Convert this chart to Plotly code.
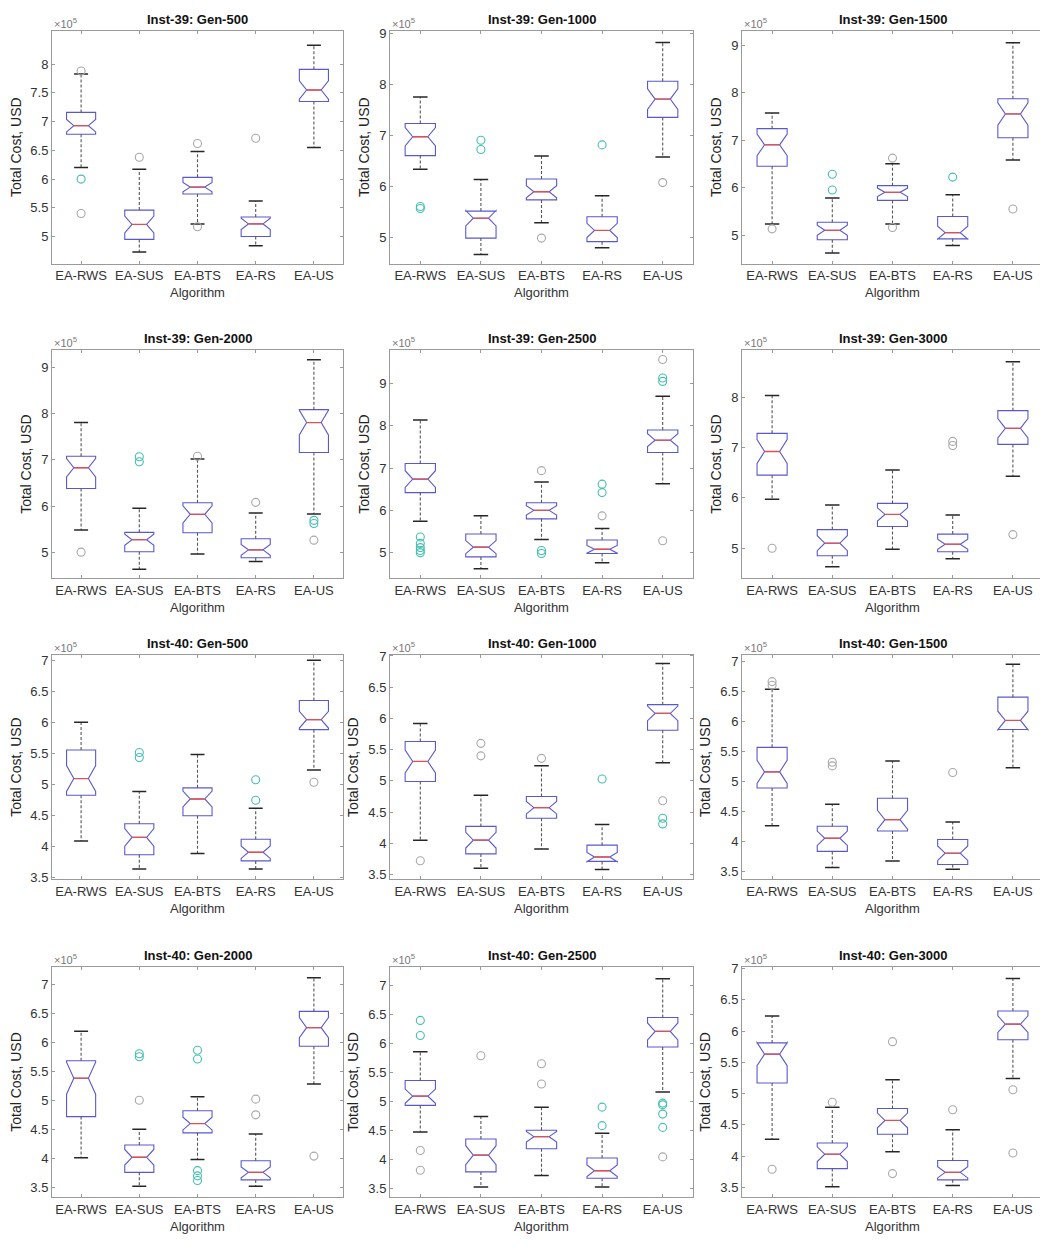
import math
import plotly.graph_objects as go

# ---------------- data (values in units of 10^5 USD) ----------------
ALGORITHMS = ["EA-RWS", "EA-SUS", "EA-BTS", "EA-RS", "EA-US"]

PANEL_TITLES = [
    "Inst-39: Gen-500", "Inst-39: Gen-1000", "Inst-39: Gen-1500",
    "Inst-39: Gen-2000", "Inst-39: Gen-2500", "Inst-39: Gen-3000",
    "Inst-40: Gen-500", "Inst-40: Gen-1000", "Inst-40: Gen-1500",
    "Inst-40: Gen-2000", "Inst-40: Gen-2500", "Inst-40: Gen-3000",
]

LOWER_WHISKER = [
    [6.20, 4.73, 5.22, 4.84, 6.55],
    [6.33, 4.66, 5.28, 4.79, 6.57],
    [5.23, 4.62, 5.23, 4.78, 6.58],
    [5.48, 4.63, 4.96, 4.80, 5.83],
    [5.74, 4.62, 5.31, 4.76, 6.63],
    [5.97, 4.63, 4.98, 4.79, 6.43],
    [4.09, 3.64, 3.89, 3.64, 5.24],
    [4.05, 3.60, 3.91, 3.58, 5.29],
    [4.26, 3.56, 3.67, 3.53, 5.23],
    [4.01, 3.52, 3.98, 3.52, 5.28],
    [4.47, 3.52, 3.72, 3.52, 5.16],
    [4.27, 3.51, 4.07, 3.53, 5.24],
]

Q1 = [
    [6.78, 4.95, 5.74, 5.00, 7.35],
    [6.60, 4.98, 5.73, 4.91, 7.35],
    [6.45, 4.90, 5.73, 4.92, 7.05],
    [6.38, 5.01, 5.42, 4.88, 7.16],
    [6.42, 4.90, 5.80, 4.98, 7.37],
    [6.45, 4.85, 5.43, 4.93, 7.06],
    [4.83, 3.87, 4.50, 3.77, 5.89],
    [4.99, 3.83, 4.40, 3.71, 5.81],
    [4.89, 3.83, 4.17, 3.61, 5.87],
    [4.72, 3.76, 4.44, 3.63, 5.93],
    [4.93, 3.78, 4.18, 3.67, 5.94],
    [5.17, 3.80, 4.35, 3.62, 5.86],
]

MEDIAN = [
    [6.93, 5.21, 5.86, 5.22, 7.55],
    [6.97, 5.37, 5.89, 5.13, 7.71],
    [6.90, 5.10, 5.90, 5.05, 7.55],
    [6.83, 5.27, 5.82, 5.05, 7.81],
    [6.74, 5.13, 6.00, 5.08, 7.66],
    [6.92, 5.10, 5.67, 5.08, 7.38],
    [5.10, 4.15, 4.77, 3.91, 6.05],
    [5.31, 4.05, 4.57, 3.78, 6.08],
    [5.16, 4.05, 4.36, 3.80, 6.02],
    [5.38, 4.02, 4.60, 3.76, 6.25],
    [5.09, 4.07, 4.39, 3.80, 6.21],
    [5.63, 4.03, 4.57, 3.74, 6.11],
]

Q3 = [
    [7.16, 5.46, 6.03, 5.34, 7.91],
    [7.23, 5.51, 6.14, 5.40, 8.06],
    [7.24, 5.27, 6.04, 5.39, 7.87],
    [7.08, 5.43, 6.07, 5.29, 8.09],
    [7.11, 5.44, 6.18, 5.30, 7.90],
    [7.28, 5.37, 5.89, 5.28, 7.73],
    [5.56, 4.37, 4.95, 4.12, 6.36],
    [5.63, 4.27, 4.75, 3.97, 6.22],
    [5.57, 4.25, 4.72, 4.03, 6.41],
    [5.68, 4.23, 4.82, 3.96, 6.53],
    [5.36, 4.35, 4.50, 4.02, 6.45],
    [5.81, 4.21, 4.76, 3.93, 6.32],
]

UPPER_WHISKER = [
    [7.83, 6.17, 6.48, 5.62, 8.33],
    [7.75, 6.13, 6.59, 5.81, 8.82],
    [7.57, 5.78, 6.50, 5.85, 9.05],
    [7.81, 5.95, 7.02, 5.85, 9.17],
    [8.14, 5.87, 6.67, 5.57, 8.70],
    [8.03, 5.86, 6.55, 5.66, 8.70],
    [6.01, 4.89, 5.49, 4.62, 7.01],
    [5.92, 4.77, 5.24, 4.30, 6.88],
    [6.54, 4.62, 5.34, 4.32, 6.96],
    [6.19, 4.50, 5.06, 4.42, 7.11],
    [5.86, 4.74, 4.90, 4.45, 7.12],
    [6.24, 4.78, 5.22, 4.42, 6.84],
]

# outliers per panel: (algorithm index, value, colour key)
OUTLIERS = [
    [(0, 7.88, "g"), (0, 6.00, "c"), (0, 5.40, "g"), (1, 6.38, "g"), (2, 6.62, "g"), (2, 5.17, "g"), (3, 6.71, "g")],
    [(0, 5.60, "c"), (0, 5.56, "c"), (1, 6.90, "c"), (1, 6.72, "c"), (2, 4.98, "g"), (3, 6.81, "c"), (4, 6.07, "g")],
    [(0, 5.13, "g"), (1, 6.28, "c"), (1, 5.95, "c"), (2, 6.62, "g"), (2, 5.16, "g"), (3, 6.22, "c"), (4, 5.55, "g")],
    [(0, 5.00, "g"), (1, 7.07, "c"), (1, 6.96, "c"), (2, 7.08, "g"), (3, 6.08, "g"), (4, 5.69, "c"), (4, 5.62, "c"), (4, 5.26, "g")],
    [(0, 5.37, "c"), (0, 5.22, "c"), (0, 5.12, "c"), (0, 5.05, "c"), (0, 5.00, "c"), (2, 6.94, "g"), (2, 5.05, "c"),
     (2, 4.98, "c"), (3, 6.62, "c"), (3, 6.42, "c"), (3, 5.87, "g"), (4, 9.57, "g"), (4, 9.13, "c"), (4, 9.05, "c"), (4, 5.28, "g")],
    [(0, 5.00, "g"), (3, 7.12, "g"), (3, 7.04, "g"), (4, 5.27, "g")],
    [(1, 5.52, "c"), (1, 5.44, "c"), (3, 5.08, "c"), (3, 4.75, "c"), (4, 5.04, "g")],
    [(0, 3.72, "g"), (1, 5.60, "g"), (1, 5.40, "g"), (2, 5.36, "g"), (3, 5.03, "c"), (4, 4.68, "g"), (4, 4.40, "c"), (4, 4.31, "c")],
    [(0, 6.67, "g"), (0, 6.61, "g"), (1, 5.32, "g"), (1, 5.26, "g"), (3, 5.15, "g")],
    [(1, 5.80, "c"), (1, 5.75, "c"), (1, 5.00, "g"), (2, 5.86, "c"), (2, 5.71, "c"), (2, 3.79, "c"), (2, 3.70, "c"),
     (2, 3.62, "c"), (3, 5.02, "g"), (3, 4.75, "g"), (4, 4.04, "g")],
    [(0, 6.40, "c"), (0, 6.14, "c"), (0, 4.15, "g"), (0, 3.81, "g"), (1, 5.79, "g"), (2, 5.65, "g"), (2, 5.30, "g"),
     (3, 4.90, "c"), (3, 4.58, "c"), (4, 4.97, "c"), (4, 4.94, "c"), (4, 4.78, "c"), (4, 4.55, "c"), (4, 4.04, "g")],
    [(0, 3.79, "g"), (1, 4.86, "g"), (2, 5.83, "g"), (2, 3.72, "g"), (3, 4.74, "g"), (4, 5.06, "g"), (4, 4.05, "g")],
]

Y_RANGES = [
    [4.53, 8.58], [4.48, 9.05], [4.40, 9.30],
    [4.43, 9.39], [4.39, 9.80], [4.40, 8.94],
    [3.47, 7.10], [3.42, 7.02], [3.36, 7.12],
    [3.33, 7.30], [3.34, 7.33], [3.34, 7.03],
]

Y_TICKS = [
    [5, 5.5, 6, 6.5, 7, 7.5, 8], [5, 6, 7, 8, 9], [5, 6, 7, 8, 9],
    [5, 6, 7, 8, 9], [5, 6, 7, 8, 9], [5, 6, 7, 8],
    [3.5, 4, 4.5, 5, 5.5, 6, 6.5, 7], [3.5, 4, 4.5, 5, 5.5, 6, 6.5, 7], [3.5, 4, 4.5, 5, 5.5, 6, 6.5, 7],
    [3.5, 4, 4.5, 5, 5.5, 6, 6.5, 7], [3.5, 4, 4.5, 5, 5.5, 6, 6.5, 7], [3.5, 4, 4.5, 5, 5.5, 6, 6.5, 7],
]

N_RUNS = 30  # runs per algorithm, used for the standard notch width 1.57*IQR/sqrt(n)

# ---------------- styling ----------------
# the page body has an 8px margin, so the figure is placed 8px in from the window edge
PAGE_OFF = 8
W, H = 1040, 1232
COL_PX = [(52, 343), (390, 693), (742, 1043)]          # window pixel positions
ROW_PX = [(25, 260), (347, 578), (655, 882), (970, 1203)]
FONT = "Liberation Sans, Arial, sans-serif"
BOX_COLOR = "#5858d0"
MEDIAN_COLOR = "#e05050"
WHISKER_COLOR = "#555555"
CAP_COLOR = "#262626"
AXIS_COLOR = "#9a9a9a"
OUT_COLORS = {"g": "#a8a8a8", "c": "#44bfb0"}
BOX_W = 0.5
NOTCH_W = 0.25
CAP_HALF = 0.12

fig = go.Figure()
layout = dict(
    width=W, height=H,
    margin=dict(l=0, r=0, t=0, b=0),
    paper_bgcolor="white", plot_bgcolor="white",
    showlegend=False,
    font=dict(family=FONT, size=12, color="#333333"),
    annotations=[],
)

positions = list(range(1, len(ALGORITHMS) + 1))

for p in range(len(PANEL_TITLES)):
    r, c = divmod(p, 3)
    n = p + 1
    xref = "x" if n == 1 else f"x{n}"
    yref = "y" if n == 1 else f"y{n}"
    xkey = "xaxis" if n == 1 else f"xaxis{n}"
    ykey = "yaxis" if n == 1 else f"yaxis{n}"

    lo, q1, med, q3, up = LOWER_WHISKER[p], Q1[p], MEDIAN[p], Q3[p], UPPER_WHISKER[p]
    notch = [1.57 * (b - a) / math.sqrt(N_RUNS) for a, b in zip(q1, q3)]

    # notched boxes
    fig.add_trace(go.Box(
        x=positions, q1=q1, median=med, q3=q3,
        lowerfence=q1, upperfence=q3,
        notched=True, notchspan=notch, notchwidth=NOTCH_W,
        width=BOX_W, whiskerwidth=0,
        fillcolor="rgba(255,255,255,0)",
        line=dict(color=BOX_COLOR, width=1.1),
        boxpoints=False, hoverinfo="skip",
        xaxis=xref, yaxis=yref,
    ))

    # dashed whiskers
    wx, wy = [], []
    for i, x in enumerate(positions):
        wx += [x, x, None, x, x, None]
        wy += [q3[i], up[i], None, q1[i], lo[i], None]
    fig.add_trace(go.Scatter(x=wx, y=wy, mode="lines",
                             line=dict(color=WHISKER_COLOR, width=1.1, dash="3px,2px"),
                             hoverinfo="skip", xaxis=xref, yaxis=yref))

    # whisker caps
    cx, cy = [], []
    for i, x in enumerate(positions):
        cx += [x - CAP_HALF, x + CAP_HALF, None, x - CAP_HALF, x + CAP_HALF, None]
        cy += [up[i], up[i], None, lo[i], lo[i], None]
    fig.add_trace(go.Scatter(x=cx, y=cy, mode="lines",
                             line=dict(color=CAP_COLOR, width=1.5),
                             hoverinfo="skip", xaxis=xref, yaxis=yref))

    # red medians
    mh = BOX_W / 2 * (1 - 2 * NOTCH_W)
    mx, my = [], []
    for i, x in enumerate(positions):
        mx += [x - mh, x + mh, None]
        my += [med[i], med[i], None]
    fig.add_trace(go.Scatter(x=mx, y=my, mode="lines",
                             line=dict(color=MEDIAN_COLOR, width=1.3),
                             hoverinfo="skip", xaxis=xref, yaxis=yref))

    # outliers
    for key, col in OUT_COLORS.items():
        pts = [(g, v) for g, v, k in OUTLIERS[p] if k == key]
        if not pts:
            continue
        fig.add_trace(go.Scatter(
            x=[positions[g] for g, _ in pts], y=[v for _, v in pts],
            mode="markers",
            marker=dict(symbol="circle-open", size=8, color=col, line=dict(width=1.1, color=col)),
            hoverinfo="skip", xaxis=xref, yaxis=yref))

    x0, x1 = (v - PAGE_OFF for v in COL_PX[c])
    t0, t1 = (v - PAGE_OFF for v in ROW_PX[r])
    layout[xkey] = dict(
        domain=[x0 / W, x1 / W], anchor=yref,
        range=[0.5, len(ALGORITHMS) + 0.5],
        tickmode="array", tickvals=positions, ticktext=ALGORITHMS,
        ticks="inside", ticklen=3, tickcolor=AXIS_COLOR, mirror="ticks",
        showline=True, linecolor=AXIS_COLOR, linewidth=1,
        showgrid=False, zeroline=False, fixedrange=True,
        tickfont=dict(size=13, color="#333333"),
        title=dict(text="Algorithm", font=dict(size=13, color="#333333"), standoff=5),
    )
    layout[ykey] = dict(
        domain=[1 - t1 / H, 1 - t0 / H], anchor=xref,
        range=Y_RANGES[p],
        tickmode="array", tickvals=Y_TICKS[p], ticktext=[f"{v:g}" for v in Y_TICKS[p]],
        ticks="inside", ticklen=3, tickcolor=AXIS_COLOR, mirror="ticks",
        showline=True, linecolor=AXIS_COLOR, linewidth=1,
        showgrid=False, zeroline=False, fixedrange=True,
        tickfont=dict(size=13, color="#333333"),
        title=dict(text="Total Cost, USD", font=dict(size=14, color="#222222"), standoff=6),
    )
    layout["annotations"].append(dict(
        text=f"<b>{PANEL_TITLES[p]}</b>", xref=f"{xref} domain", yref=f"{yref} domain",
        x=0.5, y=1, xanchor="center", yanchor="bottom", yshift=2, showarrow=False,
        font=dict(size=13, color="#111111", family=FONT)))
    layout["annotations"].append(dict(
        text="×10<sup>5</sup>", xref=f"{xref} domain", yref=f"{yref} domain",
        x=0, y=1, xanchor="left", yanchor="bottom", yshift=-1, showarrow=False,
        font=dict(size=11, color="#777777", family=FONT)))

fig.update_layout(**layout)
fig.write_html("out.html")
